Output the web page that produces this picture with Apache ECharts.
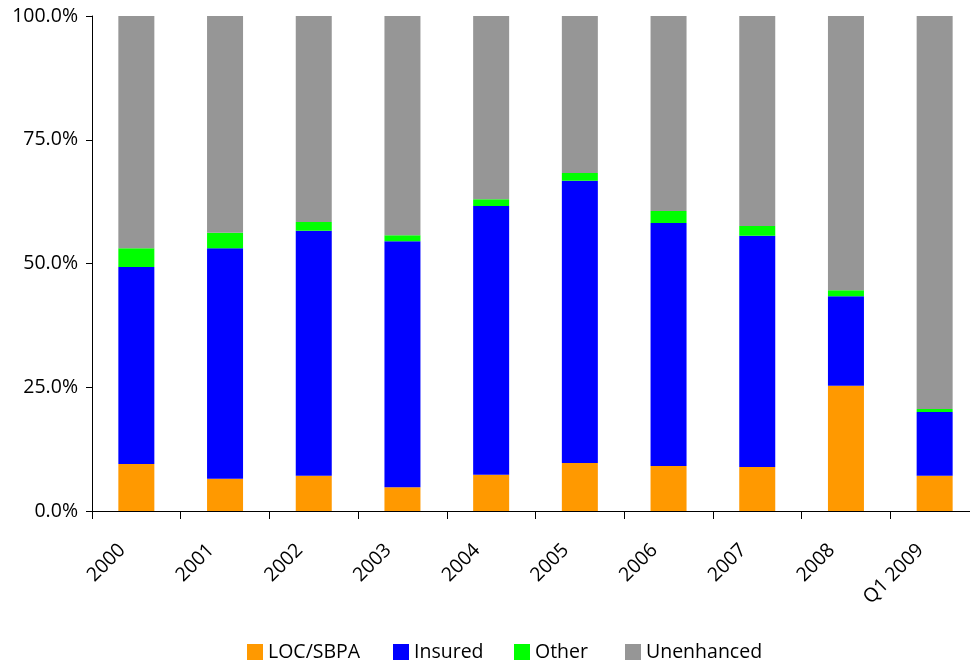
<!DOCTYPE html>
<html>
<head>
<meta charset="utf-8">
<script src="https://cdn.jsdelivr.net/npm/echarts@6/dist/echarts.min.js"></script>
<style>
  html, body { margin: 0; padding: 0; background: #fff; overflow: hidden; }
  /* drawing surface is slightly wider than the window: the last category runs past the right edge */
  #chart { width: 980px; height: 662px; }
</style>
</head>
<body>
<div id="chart"></div>
<script>
// Share of issuance by credit enhancement type (percent of total)
const categories = ['2000', '2001', '2002', '2003', '2004', '2005', '2006', '2007', '2008', 'Q1 2009'];
const locSbpa = [9.5, 6.5, 7.1, 4.8, 7.3, 9.7, 9.1, 8.9, 25.3, 7.1];
const insured = [39.8, 46.6, 49.5, 49.7, 54.3, 57.0, 49.1, 46.7, 18.1, 12.9];
const other   = [3.8, 3.1, 1.8, 1.2, 1.4, 1.6, 2.4, 2.0, 1.2, 0.6];
const unenhanced = [46.9, 43.8, 41.6, 44.3, 37.0, 31.7, 39.4, 42.4, 55.4, 79.4];
const yTicks = [0, 25, 50, 75, 100];

const seriesNames = ['LOC/SBPA', 'Insured', 'Other', 'Unenhanced'];
const seriesColors = ['#ff9900', '#0000ff', '#00ff00', '#969696'];
const seriesData = [locSbpa, insured, other, unenhanced];

const font = 'Open Sans, Noto Sans, sans-serif';

// one legend box per entry so each swatch sits in its own slot
const legendLefts = [242, 388, 509, 620];
const legends = seriesNames.map((name, i) => ({
  top: 637,
  left: legendLefts[i],
  itemWidth: 16,
  itemHeight: 16,
  icon: 'rect',
  selectedMode: false,
  textStyle: { fontFamily: font, fontSize: 19.5, color: '#000' },
  data: [name]
}));

const chart = echarts.init(document.getElementById('chart'), null, { renderer: 'canvas' });
chart.setOption({
  animation: false,
  backgroundColor: '#ffffff',
  grid: { left: 92, top: 16, bottom: 151, right: 1, containLabel: false },
  legend: legends,
  xAxis: {
    type: 'category',
    data: categories,
    boundaryGap: true,
    axisLine: { lineStyle: { color: '#000', width: 1 } },
    axisTick: { show: true, alignWithLabel: false, length: 8, lineStyle: { color: '#000' } },
    axisLabel: {
      rotate: 45,
      margin: 22,
      padding: [0, 20, 0, 0],
      fontFamily: font,
      fontSize: 19.5,
      color: '#000',
      interval: 0
    }
  },
  yAxis: {
    type: 'value',
    min: yTicks[0],
    max: yTicks[yTicks.length - 1],
    interval: 25,
    splitLine: { show: false },
    axisLine: { show: true, lineStyle: { color: '#000', width: 1 } },
    axisTick: { show: true, length: 6, lineStyle: { color: '#000' } },
    axisLabel: {
      margin: 14,
      fontFamily: font,
      fontSize: 19.5,
      color: '#000',
      formatter: v => v.toFixed(1) + '%'
    }
  },
  series: seriesNames.map((name, i) => ({
    name: name,
    type: 'bar',
    stack: 'total',
    data: seriesData[i],
    barWidth: 36,
    itemStyle: { color: seriesColors[i] },
    emphasis: { disabled: true }
  }))
});
</script>
</body>
</html>
